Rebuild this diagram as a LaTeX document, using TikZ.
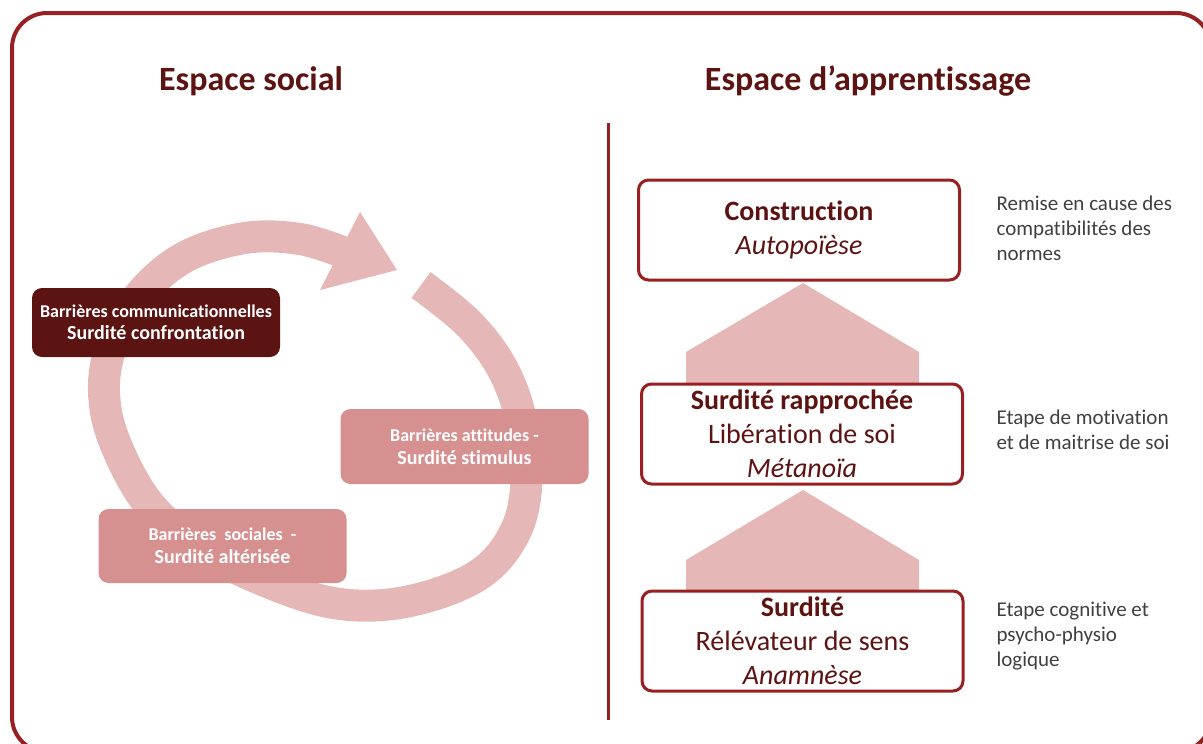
\documentclass[tikz,border=0pt]{standalone}
\usepackage{fontspec}
\setmainfont{Carlito}[Ligatures={NoCommon}]
\definecolor{framered}{RGB}{153,32,34}
\definecolor{maroon}{RGB}{92,20,18}
\definecolor{ringpink}{RGB}{230,183,183}
\definecolor{boxpink}{RGB}{214,144,144}
\definecolor{notegray}{RGB}{64,64,64}

\begin{document}
\begin{tikzpicture}[x=1pt,y=-1pt,
    title/.style={text=maroon,font=\fontsize{34}{40}\selectfont\bfseries},
    stage/.style={draw=framered,line width=3pt,rounded corners=10pt,fill=white,
      minimum width=321pt,minimum height=100pt,align=center,text=maroon,
      font=\fontsize{28}{34}\selectfont,inner sep=0pt},
    barrier/.style={rounded corners=10pt,minimum width=248pt,align=center,
      text=white,font=\bfseries\fontsize{18}{23}\selectfont,inner sep=0pt},
    note/.style={anchor=west,align=left,text=notegray,font=\fontsize{21}{25}\selectfont},
    ring/.style={ringpink,line width=32pt},
    ]
    \useasboundingbox (0,0) rectangle (1203,744);

    % frame
    \begin{scope}
      \clip (0,0) rectangle (1203,744);
      \draw[framered,line width=4pt,rounded corners=35pt] (12,13) rectangle (1211,752);
    \end{scope}
    \coordinate (divtop) at (608,123);
    \coordinate (divbot) at (608,720);
    \draw[framered,line width=3pt] (divtop) -- (divbot);

    % titles
    \node[title] (social) at (251,81) {Espace social};
    \node[title] (learning) at (868,81) {Espace d’apprentissage};

    % cycle of barriers
    \draw[ring] plot[smooth,tension=0.6] coordinates {(421,285) (468,323) (501,366)
      (520,415) (527,470) (517,528) (480,574) (410,601) (340,604) (270,583) (200,548)
      (148,503) (114,440) (104,390) (112,345) (140,295) (185,257) (245,238)
      (300,239) (345,253)};
    \fill[ringpink] (360,212) -- (397,270) -- (320,290) -- cycle;

    \node[barrier,fill=maroon,minimum height=69pt] (comm) at (156,322.5)
      {Barrières communicationnelles\\[-1pt]{\fontsize{20}{24}\selectfont Surdité confrontation}};
    \node[barrier,fill=boxpink,minimum height=75pt] (attit) at (464.5,446.5)
      {Barrières attitudes -\\{\fontsize{20}{24}\selectfont Surdité stimulus}};
    \node[barrier,fill=boxpink,minimum height=74pt] (socia) at (222.5,546)
      {Barrières\ \ sociales\ \ -\\{\fontsize{20}{24}\selectfont Surdité altérisée}};

    % steps
    \fill[ringpink] (686,400) -- (686,352) -- (803,283) -- (919,352) -- (919,400) -- cycle;
    \fill[ringpink] (686,600) -- (686,560) -- (803,490) -- (919,560) -- (919,600) -- cycle;

    \node[stage] (constr) at (799,230) {\textbf{Construction}\\\textit{Autopoïèse}};
    \node[stage] (rappr) at (802,434) {\textbf{Surdité rapprochée}\\Libération de soi\\\textit{Métanoïa}};
    \node[stage] (surd) at (802.5,641) {\textbf{Surdité}\\Rélévateur de sens\\\textit{Anamnèse}};

    \node[note] (n1) at (993,228) {Remise en cause des\\compatibilités des\\normes};
    \node[note] (n2) at (993,430) {Etape de motivation\\et de maitrise de soi};
    \node[note] (n3) at (993,636) {Etape cognitive et\\psycho-physio\\logique};

\end{tikzpicture}
\end{document}
